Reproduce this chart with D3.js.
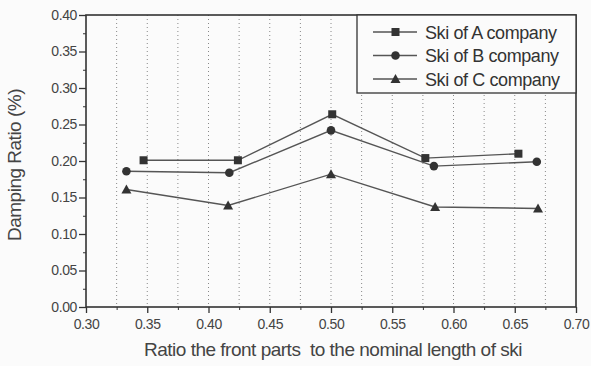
<!DOCTYPE html>
<html>
<head>
<meta charset="utf-8">
<script src="https://cdn.jsdelivr.net/npm/d3@7"></script>
<style>
  body { margin: 0; background: #fbfbfb; }
  svg { font-family: "Liberation Sans", Arial, sans-serif; }
</style>
</head>
<body>
<svg width="591" height="366"></svg>
<script>
var seriesNames = ["Ski of A company", "Ski of B company", "Ski of C company"];
var xA = [0.347, 0.424, 0.501, 0.577, 0.653];
var yA = [0.201, 0.201, 0.264, 0.204, 0.210];
var xB = [0.333, 0.417, 0.500, 0.584, 0.668];
var yB = [0.186, 0.184, 0.242, 0.193, 0.199];
var xC = [0.333, 0.416, 0.500, 0.585, 0.669];
var yC = [0.161, 0.139, 0.182, 0.137, 0.135];
var xTicks = [0.30, 0.35, 0.40, 0.45, 0.50, 0.55, 0.60, 0.65, 0.70];
var yTicks = [0.00, 0.05, 0.10, 0.15, 0.20, 0.25, 0.30, 0.35, 0.40];
var markers = ["square", "circle", "triangle"];

var mLeft = 86, mRight = 576, mTop = 15, mBottom = 307;
var svg = d3.select("svg");
var x = d3.scaleLinear().domain([0.30, 0.70]).range([mLeft, mRight]);
var y = d3.scaleLinear().domain([0, 0.40]).range([mBottom, mTop]);

var ink = "#333";
var lineCol = "#555";

// dotted vertical grid, every 0.025
var gridX = d3.range(13, 28).map(function(i) { return i * 0.025; });
svg.append("g").selectAll("line").data(gridX).enter().append("line")
  .attr("x1", function(d) { return x(d); }).attr("x2", function(d) { return x(d); })
  .attr("y1", mTop).attr("y2", mBottom)
  .attr("stroke", "#888").attr("stroke-width", 1)
  .attr("stroke-dasharray", "1,3");

// axes
var minorX = d3.range(0, 8).map(function(i) { return 0.325 + i * 0.05; });
var minorY = d3.range(0, 8).map(function(i) { return 0.025 + i * 0.05; });

svg.append("g").attr("transform", "translate(0," + mBottom + ")")
  .call(d3.axisBottom(x).tickValues(minorX).tickSize(3).tickFormat(""))
  .call(function(g) { g.select(".domain").remove(); g.selectAll("line").attr("stroke", ink); });
svg.append("g").attr("transform", "translate(" + mLeft + ",0)")
  .call(d3.axisLeft(y).tickValues(minorY).tickSize(3).tickFormat(""))
  .call(function(g) { g.select(".domain").remove(); g.selectAll("line").attr("stroke", ink); });

var xAxis = svg.append("g").attr("transform", "translate(0," + mBottom + ")")
  .call(d3.axisBottom(x).tickValues(xTicks).tickSize(6).tickPadding(6).tickFormat(d3.format(".2f")));
var yAxis = svg.append("g").attr("transform", "translate(" + mLeft + ",0)")
  .call(d3.axisLeft(y).tickValues(yTicks).tickSize(7).tickPadding(2).tickFormat(d3.format(".2f")));
[xAxis, yAxis].forEach(function(g) {
  g.select(".domain").remove();
  g.selectAll("line").attr("stroke", ink).attr("stroke-width", 1.3);
  g.selectAll("text").attr("fill", "#444").style("font-size", "14px").style("letter-spacing", "-0.4px")
    .style("font-family", "Liberation Sans, Arial, sans-serif");
});

// frame
svg.append("rect").attr("x", mLeft).attr("y", mTop)
  .attr("width", mRight - mLeft).attr("height", mBottom - mTop)
  .attr("fill", "none").attr("stroke", ink).attr("stroke-width", 1.6);

// legend
var lgX = 357, lgY = mTop, lgW = mRight - lgX, lgH = 78;
svg.append("rect").attr("x", lgX).attr("y", lgY).attr("width", lgW).attr("height", lgH)
  .attr("fill", "#fbfbfb").attr("stroke", ink).attr("stroke-width", 1.3);

function drawMarker(g, type, cx, cy) {
  if (type === "square") {
    g.append("rect").attr("x", cx - 4).attr("y", cy - 4).attr("width", 8).attr("height", 8).attr("fill", ink);
  } else if (type === "circle") {
    g.append("circle").attr("cx", cx).attr("cy", cy).attr("r", 4.3).attr("fill", ink);
  } else {
    g.append("path").attr("d", "M" + cx + "," + (cy - 5) + "L" + (cx + 5) + "," + (cy + 4) + "L" + (cx - 5) + "," + (cy + 4) + "Z").attr("fill", ink);
  }
}

var data = [[xA, yA], [xB, yB], [xC, yC]];
var line = d3.line().x(function(d) { return x(d[0]); }).y(function(d) { return y(d[1]); });
data.forEach(function(s, i) {
  var pts = d3.zip(s[0], s[1]);
  var g = svg.append("g");
  g.append("path").datum(pts).attr("d", line)
    .attr("fill", "none").attr("stroke", lineCol).attr("stroke-width", 1.4);
  pts.forEach(function(p) { drawMarker(g, markers[i], x(p[0]), y(p[1])); });

  var ry = lgY + 17 + i * 23.5;
  var lg = svg.append("g");
  lg.append("line").attr("x1", 373).attr("x2", 417).attr("y1", ry).attr("y2", ry)
    .attr("stroke", lineCol).attr("stroke-width", 1.4);
  drawMarker(lg, markers[i], 395.5, ry);
  lg.append("text").attr("x", 425).attr("y", ry + 6.5)
    .attr("fill", "#333").style("font-size", "18px").style("letter-spacing", "-0.4px")
    .text(seriesNames[i]);
});

// axis titles
svg.append("text").attr("x", (mLeft + mRight) / 2 + 2).attr("y", 356)
  .attr("text-anchor", "middle").attr("fill", "#444")
  .style("font-size", "19px").style("letter-spacing", "-0.5px").style("white-space", "pre")
  .text("Ratio the front parts  to the nominal length of ski");
svg.append("text").attr("transform", "translate(21,165) rotate(-90)")
  .attr("text-anchor", "middle").attr("fill", "#444")
  .style("font-size", "19px").style("letter-spacing", "-0.5px")
  .text("Damping Ratio (%)");
</script>
</body>
</html>
